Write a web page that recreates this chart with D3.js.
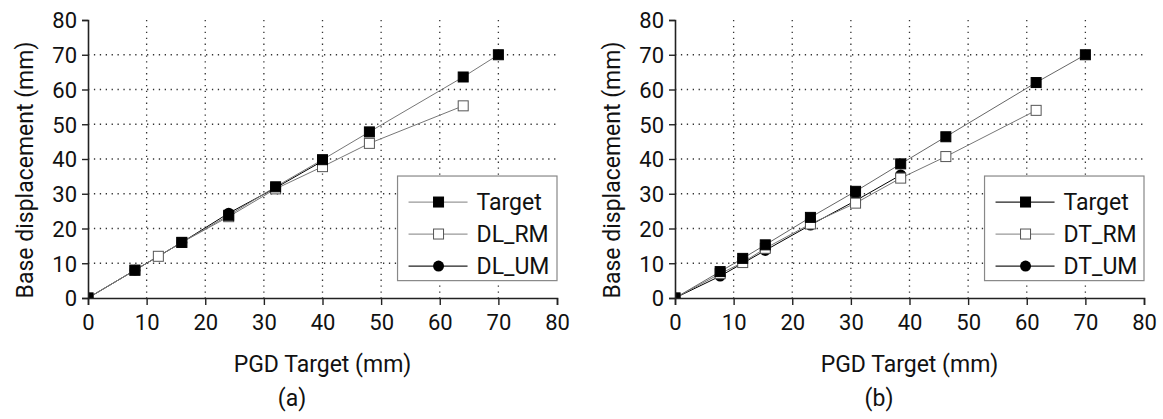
<!DOCTYPE html>
<html>
<head>
<meta charset="utf-8">
<script src="https://cdn.jsdelivr.net/npm/d3@7"></script>
<style>
  body { margin: 0; background: #fff; }
  text { font-family: Roboto, "Noto Sans", sans-serif; fill: #111; }
</style>
</head>
<body>
<div id="chart"></div>
<script>
// tick values shared by both panels
const xTicks = [0, 10, 20, 30, 40, 50, 60, 70, 80];
const yTicks = [0, 10, 20, 30, 40, 50, 60, 70, 80];

// panel (a)
const aTargetX = [0, 8, 16, 24, 32, 40, 48, 64, 70];
const aTargetY = [0, 8, 16, 23.8, 32, 39.8, 47.8, 63.6, 70];
const aRmX = [0, 8, 12, 16, 24, 32, 40, 48, 64];
const aRmY = [0, 8, 12, 16, 23.4, 31.4, 37.8, 44.5, 55.3];
const aUmX = [0, 8, 16, 24, 32, 40];
const aUmY = [0, 8, 16, 24.4, 31.7, 39.4];

// panel (b)
const bTargetX = [0, 7.7, 11.55, 15.4, 23.1, 30.8, 38.5, 46.2, 61.6, 70];
const bTargetY = [0, 7.6, 11.4, 15.3, 23.2, 30.7, 38.6, 46.4, 62, 70];
const bRmX = [0, 7.7, 11.55, 15.4, 23.1, 30.8, 38.5, 46.2, 61.6];
const bRmY = [0, 7, 10.2, 14.3, 21.3, 27.3, 34.5, 40.7, 54];
const bUmX = [0, 7.7, 15.4, 23.1, 30.8, 38.5];
const bUmY = [0, 6.3, 13.7, 21, 28, 35.4];

const svg = d3.select("#chart")
  .append("svg")
  .attr("width", 1163)
  .attr("height", 419);

function zip(xs, ys) {
  return xs.map((x, i) => ({ x: x, y: ys[i] }));
}

function drawPanel(p) {
  const g = svg.append("g");

  const x = d3.scaleLinear().domain([0, 80]).range([p.left, p.right]);
  const y = d3.scaleLinear().domain([0, 80]).range([298, 20]);

  // dotted grid
  g.selectAll(".vgrid")
    .data(xTicks.filter(d => d > 0 && d < 80))
    .enter()
    .append("line")
    .attr("x1", d => x(d)).attr("x2", d => x(d))
    .attr("y1", y(80)).attr("y2", y(0))
    .attr("stroke", "#333")
    .attr("stroke-width", 1.3)
    .attr("stroke-dasharray", "1.3,4.6");

  g.selectAll(".hgrid")
    .data(yTicks.filter(d => d > 0 && d < 80))
    .enter()
    .append("line")
    .attr("x1", x(0)).attr("x2", x(80))
    .attr("y1", d => y(d)).attr("y2", d => y(d))
    .attr("stroke", "#333")
    .attr("stroke-width", 1.3)
    .attr("stroke-dasharray", "1.3,4.6");

  // clip so markers at the origin sit inside the plot
  const clipId = "clip" + p.name;
  g.append("clipPath").attr("id", clipId)
    .append("rect")
    .attr("x", x(0)).attr("y", y(80) - 10)
    .attr("width", x(80) - x(0) + 10).attr("height", y(0) - y(80) + 10);

  const plot = g.append("g").attr("clip-path", `url(#${clipId})`);

  const line = d3.line().x(d => x(d.x)).y(d => y(d.y));

  p.series.forEach(s => {
    plot.append("path")
      .datum(s.data)
      .attr("fill", "none")
      .attr("stroke", s.stroke)
      .attr("stroke-width", 1)
      .attr("d", line);
  });

  function marker(sel, shape, cx, cy) {
    if (shape === "circle") {
      sel.append("circle")
        .attr("cx", cx).attr("cy", cy).attr("r", 5.5)
        .attr("fill", "#000");
    } else {
      sel.append("rect")
        .attr("x", cx - 5).attr("y", cy - 5)
        .attr("width", 10).attr("height", 10)
        .attr("fill", shape === "open" ? "#fff" : "#000")
        .attr("stroke", shape === "open" ? "#555" : "#000")
        .attr("stroke-width", 1);
    }
  }

  p.series.forEach(s => {
    s.data.forEach(d => marker(plot, s.shape, x(d.x), y(d.y)));
  });

  // axes
  const xAxis = g.append("g")
    .attr("transform", `translate(0, ${y(0)})`)
    .call(d3.axisBottom(x).tickValues(xTicks).tickSize(7).tickPadding(9));
  const yAxis = g.append("g")
    .attr("transform", `translate(${x(0)}, 0)`)
    .call(d3.axisLeft(y).tickValues(yTicks).tickSize(6).tickPadding(5));

  [xAxis, yAxis].forEach(a => {
    a.select(".domain").attr("stroke", "#222").attr("stroke-width", 1.6);
    a.selectAll(".tick line").attr("stroke", "#222").attr("stroke-width", 1.4);
    a.selectAll("text")
      .style("font-family", "Roboto, 'Noto Sans', sans-serif")
      .style("font-size", "22px")
      .attr("fill", "#111");
  });
  yAxis.selectAll("text").attr("dy", "0.36em");

  // axis titles
  g.append("text")
    .attr("x", (x(0) + x(80)) / 2)
    .attr("y", 372)
    .style("text-anchor", "middle")
    .style("font-size", "23px")
    .text("PGD Target (mm)");

  g.append("text")
    .attr("transform", "rotate(-90)")
    .attr("x", -170)
    .attr("y", p.left - 55)
    .style("text-anchor", "middle")
    .style("font-size", "23px")
    .text("Base displacement (mm)");

  g.append("text")
    .attr("x", p.captionX)
    .attr("y", 406)
    .style("text-anchor", "middle")
    .style("font-size", "23px")
    .text(p.caption);

  // legend
  const lx = x(52.8), ly = y(35.1);
  const legend = g.append("g");
  legend.append("rect")
    .attr("x", lx).attr("y", ly)
    .attr("width", x(80) - lx).attr("height", y(5) - ly)
    .attr("fill", "#fff")
    .attr("stroke", "#888")
    .attr("stroke-width", 1.2);

  p.series.slice().reverse().forEach((s, i) => {
    const ry = ly + 26 + i * 32;
    legend.append("line")
      .attr("x1", lx + 11).attr("x2", lx + 70)
      .attr("y1", ry).attr("y2", ry)
      .attr("stroke", s.legendStroke)
      .attr("stroke-width", 1.3);
    marker(legend, s.shape, lx + 41, ry);
    legend.append("text")
      .attr("x", lx + 79)
      .attr("y", ry + 8)
      .style("font-size", "23px")
      .text(s.label);
  });
}

drawPanel({
  name: "a",
  left: 88, right: 557,
  caption: "(a)", captionX: 292,
  series: [
    { label: "DL_UM", data: zip(aUmX, aUmY), shape: "circle", stroke: "#000", legendStroke: "#222" },
    { label: "DL_RM", data: zip(aRmX, aRmY), shape: "open", stroke: "#777", legendStroke: "#999" },
    { label: "Target", data: zip(aTargetX, aTargetY), shape: "filled", stroke: "#777", legendStroke: "#999" }
  ]
});

drawPanel({
  name: "b",
  left: 675, right: 1144,
  caption: "(b)", captionX: 879,
  series: [
    { label: "DT_UM", data: zip(bUmX, bUmY), shape: "circle", stroke: "#000", legendStroke: "#222" },
    { label: "DT_RM", data: zip(bRmX, bRmY), shape: "open", stroke: "#777", legendStroke: "#999" },
    { label: "Target", data: zip(bTargetX, bTargetY), shape: "filled", stroke: "#666", legendStroke: "#222" }
  ]
});
</script>
</body>
</html>
